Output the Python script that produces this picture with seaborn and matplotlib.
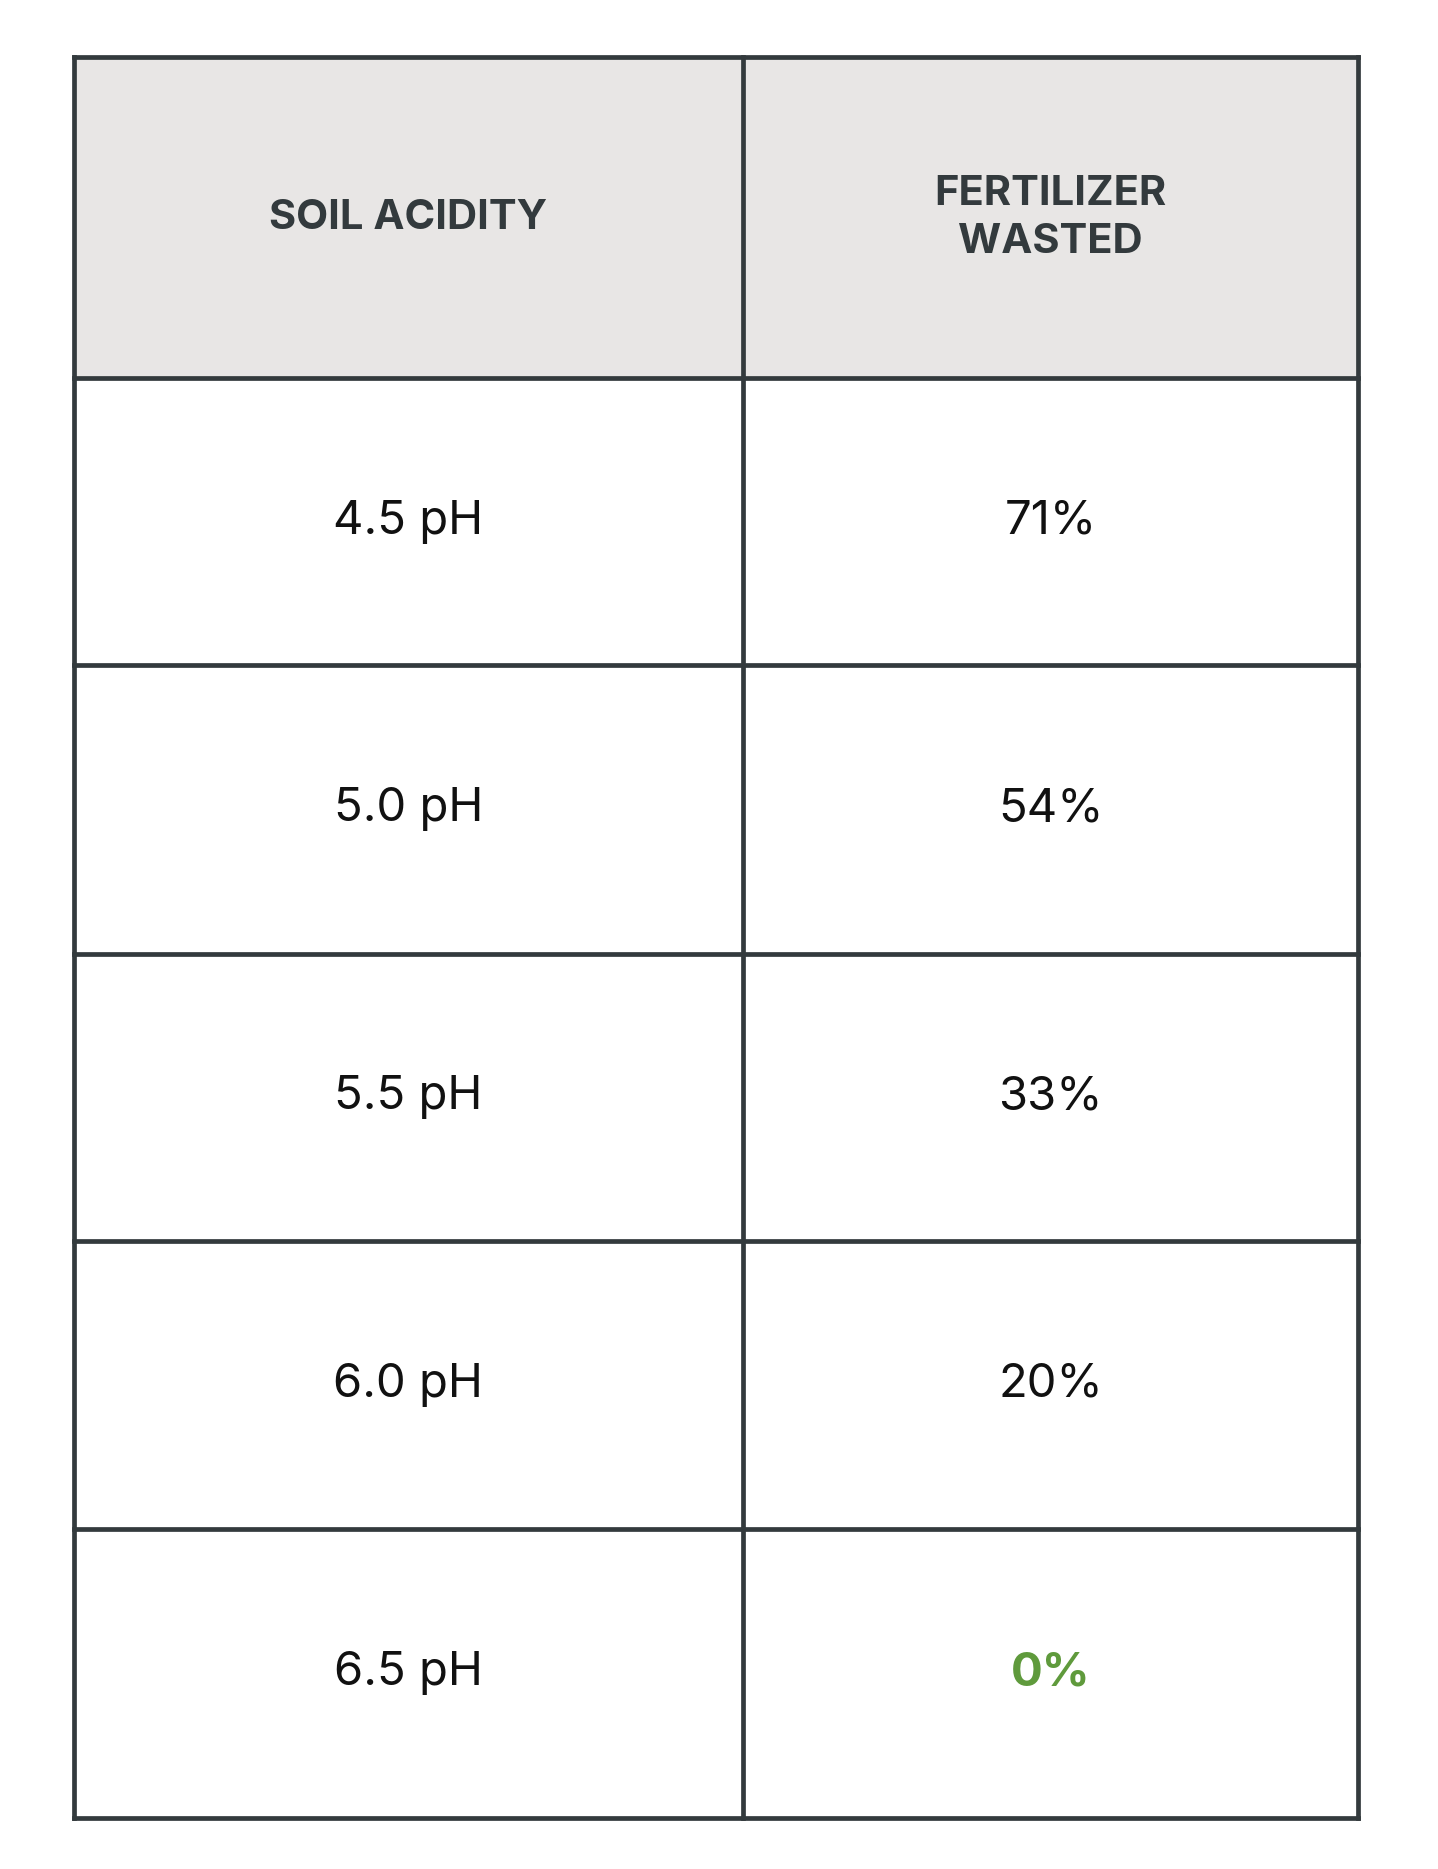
import matplotlib
matplotlib.use("Agg")
import matplotlib.pyplot as plt
import seaborn as sns

sns.set_theme(style="white")
plt.rcParams['font.family'] = ['Inter', 'DejaVu Sans']

headers = ["SOIL ACIDITY", "FERTILIZER\nWASTED"]
acidity = ["4.5 pH", "5.0 pH", "5.5 pH", "6.0 pH", "6.5 pH"]
wasted = ["71%", "54%", "33%", "20%", "0%"]

W, H = 1210, 1562
x0, xm, x1 = 62, 625, 1143
ys = [48, 316, 556, 797, 1037, 1278, 1519]
line = "#333a3d"

fig = plt.figure(figsize=(14.38, 18.69), dpi=100)
ax = fig.add_axes([0, 0, 1, 1])
ax.set_xlim(0, W); ax.set_ylim(H, 0); ax.axis("off")

ax.fill_between([x0, x1], ys[0], ys[1], color="#e8e6e5", zorder=0)
for y in ys:
    ax.plot([x0, x1], [y, y], color=line, lw=3.4, solid_capstyle="projecting")
for x in (x0, xm, x1):
    ax.plot([x, x], [ys[0], ys[-1]], color=line, lw=3.4, solid_capstyle="projecting")

cx = [(x0 + xm) / 2, (xm + x1) / 2]
hy = (ys[0] + ys[1]) / 2
for c, h in zip(cx, headers):
    ax.text(c, hy, h, ha="center", va="center", fontsize=30, fontweight="bold",
            color=line, linespacing=1.35)
for i, (a, w) in enumerate(zip(acidity, wasted)):
    yc = (ys[i + 1] + ys[i + 2]) / 2
    ax.text(cx[0], yc, a, ha="center", va="center", fontsize=34, color="#111111")
    green = w == "0%"
    ax.text(cx[1], yc, w, ha="center", va="center", fontsize=34,
            color="#5f9a3c" if green else "#111111",
            fontweight="bold" if green else "normal")

fig.savefig("out.png", dpi=100, facecolor="white")
